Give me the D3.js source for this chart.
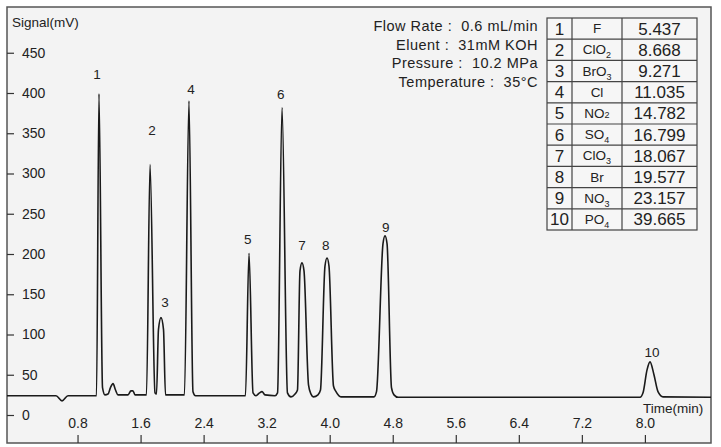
<html>
<head>
<meta charset="utf-8">
<style>
  body { margin: 0; background: #fff; }
  svg text { font-family: "Liberation Sans", Arial, sans-serif; fill: #222; }
  .axis path.domain { display: none; }
  .axis line { stroke: #333; stroke-width: 1.2; }
  .axis text { font-size: 14px; }
  .trace { fill: none; stroke: #1a1a1a; stroke-width: 1.6; stroke-linejoin: round; }
  .grid-line { stroke: #444; stroke-width: 1.2; }
  .cond { white-space: pre; letter-spacing: 0.5px; }
</style>
</head>
<body>
<script src="https://d3js.org/d3.v7.min.js"></script>
<script>
// chromatogram trace (time in min, signal in mV)
var traceTime = [-0.095, 0.527, 0.603, 0.679, 1.041, 1.072, 1.117, 1.148, 1.187, 1.218, 1.250, 1.282, 1.313,
  1.440, 1.478, 1.503, 1.529, 1.675, 1.720, 1.783, 1.802, 1.827, 1.859, 1.891, 1.916, 2.157, 2.214, 2.265,
  2.297, 2.931, 2.976, 3.027, 3.065, 3.109, 3.141, 3.179, 3.306, 3.338, 3.395, 3.464, 3.509, 3.560, 3.591,
  3.623, 3.648, 3.674, 3.731, 3.763, 3.794, 3.851, 3.883, 3.940, 3.966, 3.991, 4.048, 4.080, 4.143, 4.562,
  4.594, 4.676, 4.702, 4.728, 4.784, 4.816, 4.867, 7.938, 7.976, 8.027, 8.065, 8.115, 8.166, 8.230, 8.839];
var traceSignal = [24, 24, 17.5, 24, 24, 399, 34, 25, 26, 34, 39, 31, 25,
  25, 30, 30, 25, 25, 311, 27.5, 26, 106, 121, 106, 25, 25, 390, 29,
  24, 24, 201, 27.5, 24, 27.5, 29, 25, 24, 27.5, 382, 27.5, 22.5, 26, 31,
  179, 189, 179, 37.5, 26, 22.5, 25, 31, 185, 195, 185, 36, 29, 22.5, 22.5,
  29, 212.5, 222.5, 212.5, 34, 25, 22, 22, 27.5, 56, 66, 50, 29, 22.5, 22];

// peak number labels
var peakLabels = ["1", "2", "3", "4", "5", "6", "7", "8", "9", "10"];
var peakLabelTime = [1.047, 1.745, 1.91, 2.24, 2.96, 3.38, 3.65, 3.95, 4.71, 8.09];
var peakLabelSignal = [424, 354, 140, 405, 219, 399, 211, 211, 234, 78];

// axis ticks
var yTicks = [0, 50, 100, 150, 200, 250, 300, 350, 400, 450];
var xTicks = [0.8, 1.6, 2.4, 3.2, 4.0, 4.8, 5.6, 6.4, 7.2, 8.0];

// conditions
var conditions = ["Flow Rate :  0.6 mL/min", "Eluent :  31mM KOH", "Pressure :  10.2 MPa", "Temperature :  35°C"];

// table of retention times
var tableNo = [1, 2, 3, 4, 5, 6, 7, 8, 9, 10];
var tableIon = ["F", "ClO", "BrO", "Cl", "NO", "SO", "ClO", "Br", "NO", "PO"];
var tableIonSub = ["", "2", "3", "", "2", "4", "3", "", "3", "4"];
var tableTime = ["5.437", "8.668", "9.271", "11.035", "14.782", "16.799", "18.067", "19.577", "23.157", "39.665"];

var width = 721, height = 447;
var svg = d3.select("body").append("svg")
    .attr("width", width)
    .attr("height", height);

// frame
svg.append("rect")
    .attr("x", 7).attr("y", 7)
    .attr("width", 704).attr("height", 436)
    .attr("fill", "#f3f3f3")
    .attr("stroke", "#555")
    .attr("stroke-width", 1.5);

var x = d3.scaleLinear().domain([0, 8]).range([14.5, 644.9]);
var y = d3.scaleLinear().domain([0, 450]).range([415, 52.75]);

// y axis on the left border, ticks pointing in
svg.append("g")
    .attr("class", "axis")
    .attr("transform", "translate(7,0)")
    .call(d3.axisRight(y).tickValues(yTicks).tickSize(7).tickPadding(8));

// x axis on the bottom border, ticks pointing up
svg.append("g")
    .attr("class", "axis")
    .attr("transform", "translate(0,443)")
    .call(d3.axisTop(x).tickValues(xTicks).tickSize(8).tickPadding(7).tickFormat(d3.format(".1f")));

svg.append("text")
    .attr("x", 12).attr("y", 27)
    .style("font-size", "13.5px")
    .text("Signal(mV)");

svg.append("text")
    .attr("x", 643).attr("y", 413)
    .style("font-size", "13.5px")
    .text("Time(min)");

// trace
var pts = traceTime.map(function(t, i) { return [t, traceSignal[i]]; });
var line = d3.line()
    .x(function(d) { return x(d[0]); })
    .y(function(d) { return y(d[1]); })
    .curve(d3.curveMonotoneX);

svg.append("path")
    .datum(pts)
    .attr("class", "trace")
    .attr("d", line);

svg.selectAll(".peak-label")
    .data(peakLabels)
    .enter().append("text")
    .attr("class", "peak-label")
    .attr("x", function(d, i) { return x(peakLabelTime[i]); })
    .attr("y", function(d, i) { return y(peakLabelSignal[i]) + 5; })
    .attr("text-anchor", "middle")
    .style("font-size", "13.5px")
    .text(function(d) { return d; });

// conditions text
svg.selectAll(".cond")
    .data(conditions)
    .enter().append("text")
    .attr("class", "cond")
    .attr("x", 538)
    .attr("y", function(d, i) { return 31 + i * 18.5; })
    .attr("text-anchor", "end")
    .style("font-size", "14.5px")
    .text(function(d) { return d; });

// table
var tx = [547, 572, 622, 697], ty0 = 18, rowH = 21.2;
var tbl = svg.append("g");
tbl.append("rect")
    .attr("x", tx[0]).attr("y", ty0)
    .attr("width", tx[3] - tx[0]).attr("height", rowH * tableNo.length)
    .attr("fill", "#f6f6f6")
    .attr("stroke", "#444").attr("stroke-width", 1.2);
[tx[1], tx[2]].forEach(function(v) {
  tbl.append("line").attr("class", "grid-line")
      .attr("x1", v).attr("x2", v)
      .attr("y1", ty0).attr("y2", ty0 + rowH * tableNo.length);
});
d3.range(1, tableNo.length).forEach(function(i) {
  tbl.append("line").attr("class", "grid-line")
      .attr("x1", tx[0]).attr("x2", tx[3])
      .attr("y1", ty0 + i * rowH).attr("y2", ty0 + i * rowH);
});

tbl.selectAll(".tno")
    .data(tableNo)
    .enter().append("text")
    .attr("x", (tx[0] + tx[1]) / 2)
    .attr("y", function(d, i) { return ty0 + i * rowH + rowH / 2 + 6; })
    .attr("text-anchor", "middle")
    .style("font-size", "17px")
    .text(function(d) { return d; });

var ion = tbl.selectAll(".tion")
    .data(tableIon)
    .enter().append("text")
    .attr("x", (tx[1] + tx[2]) / 2)
    .attr("y", function(d, i) { return ty0 + i * rowH + rowH / 2 + 4.5; })
    .attr("text-anchor", "middle")
    .style("font-size", "13.5px");
ion.append("tspan").text(function(d) { return d; });
ion.append("tspan")
    .attr("dy", function(d, i) { return i === 4 ? 0 : 4; })
    .style("font-size", "9px")
    .text(function(d, i) { return tableIonSub[i]; });

tbl.selectAll(".ttime")
    .data(tableTime)
    .enter().append("text")
    .attr("x", (tx[2] + tx[3]) / 2)
    .attr("y", function(d, i) { return ty0 + i * rowH + rowH / 2 + 6; })
    .attr("text-anchor", "middle")
    .style("font-size", "17px")
    .text(function(d) { return d; });
</script>
</body>
</html>
